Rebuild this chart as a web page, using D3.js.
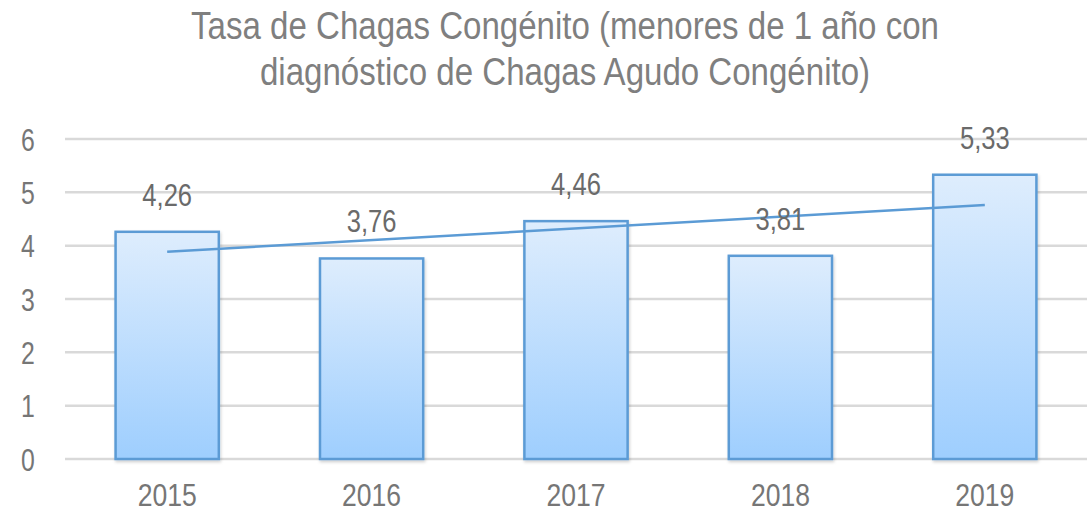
<!DOCTYPE html>
<html>
<head>
<meta charset="utf-8">
<script src="https://cdn.jsdelivr.net/npm/d3@7"></script>
<style>
  html, body { margin: 0; padding: 0; background: #fff; }
  svg { display: block; font-family: "Liberation Sans", Arial, sans-serif; }
</style>
</head>
<body>
<svg id="chart" width="1087" height="513"></svg>
<script>
// Chart data
const years = ["2015", "2016", "2017", "2018", "2019"];
const rates = [4.26, 3.76, 4.46, 3.81, 5.33];
const yTicks = [0, 1, 2, 3, 4, 5, 6];
const titleLines = [
  "Tasa de Chagas Congénito (menores de 1 año con",
  "diagnóstico de Chagas Agudo Congénito)"
];

const W = 1087, H = 513;
const margin = { top: 139, right: 0, bottom: 54, left: 65 };
const svg = d3.select("#chart");
const squeeze = 0.8; // horizontal condensing of all text

const x = d3.scaleBand()
  .domain(years)
  .range([margin.left, W - margin.right])
  .paddingInner(0.495)
  .paddingOuter(0.2475);

const y = d3.scaleLinear()
  .domain([0, 6])
  .range([H - margin.bottom, margin.top]);

// Bar gradient
const defs = svg.append("defs");
const grad = defs.append("linearGradient")
  .attr("id", "barFill")
  .attr("x1", 0).attr("y1", 0).attr("x2", 0).attr("y2", 1);
grad.append("stop").attr("offset", "0%").attr("stop-color", "#deedfd");
grad.append("stop").attr("offset", "100%").attr("stop-color", "#9ecefe");

const shadow = defs.append("filter").attr("id", "shadow")
  .attr("x", "-10%").attr("y", "-10%").attr("width", "130%").attr("height", "130%");
shadow.append("feDropShadow")
  .attr("dx", 1).attr("dy", 2).attr("stdDeviation", 1.5)
  .attr("flood-color", "#000").attr("flood-opacity", 0.18);

// Gridlines
svg.append("g")
  .selectAll("line")
  .data(yTicks)
  .join("line")
  .attr("x1", margin.left)
  .attr("x2", W)
  .attr("y1", d => y(d))
  .attr("y2", d => y(d))
  .attr("stroke", "#d9d9d9")
  .attr("stroke-width", 2.5);

// Y axis labels
const yAxis = d3.axisLeft(y).tickValues(yTicks).tickSize(0).tickPadding(0)
  .tickFormat(d3.format("d"));
const gy = svg.append("g").attr("transform", `translate(28,0)`).call(yAxis);
gy.select(".domain").remove();
gy.selectAll("text")
  .attr("x", 0)
  .attr("dy", "0.36em")
  .attr("text-anchor", "middle")
  .attr("transform", `scale(${squeeze},1)`)
  .attr("fill", "#767676")
  .style("font-size", "31px")
  .style("font-family", "'Liberation Sans', Arial, sans-serif");

// X axis labels
const xAxis = d3.axisBottom(x).tickSize(0).tickPadding(0);
const gx = svg.append("g").attr("transform", `translate(0,${H - margin.bottom})`).call(xAxis);
gx.select(".domain").remove();
gx.selectAll("text")
  .attr("y", 47)
  .attr("dy", 0)
  .attr("transform", `scale(0.83,1)`)
  .attr("fill", "#767676")
  .style("font-size", "32px")
  .style("font-family", "'Liberation Sans', Arial, sans-serif");

// Bars
svg.append("g")
  .selectAll("rect")
  .data(rates)
  .join("rect")
  .attr("x", (d, i) => x(years[i]))
  .attr("y", d => y(d))
  .attr("width", x.bandwidth())
  .attr("height", d => y(0) - y(d))
  .attr("fill", "url(#barFill)")
  .attr("stroke", "#5b9bd5")
  .attr("stroke-width", 2.5)
  .attr("filter", "url(#shadow)");

// Linear trendline (least squares over the series)
const n = rates.length;
const xs = d3.range(n);
const mx = d3.mean(xs), my = d3.mean(rates);
const slope = d3.sum(xs, i => (i - mx) * (rates[i] - my)) / d3.sum(xs, i => (i - mx) ** 2);
const icpt = my - slope * mx;
const trend = [0, n - 1].map(i => ({ year: years[i], v: icpt + slope * i }));
svg.append("path")
  .datum(trend)
  .attr("fill", "none")
  .attr("stroke", "#5b9bd5")
  .attr("stroke-width", 2.5)
  .attr("d", d3.line()
    .x(d => x(d.year) + x.bandwidth() / 2)
    .y(d => y(d.v)));

// Value labels
const fmt = v => d3.format(".2f")(v).replace(".", ",");
svg.append("g")
  .selectAll("text")
  .data(rates)
  .join("text")
  .attr("transform", (d, i) => `translate(${x(years[i]) + x.bandwidth() / 2},${y(d) - 26}) scale(${squeeze},1)`)
  .attr("text-anchor", "middle")
  .attr("fill", "#6a6a6a")
  .style("font-size", "32px")
  .text(fmt);

// Title
svg.append("g")
  .selectAll("text")
  .data(titleLines)
  .join("text")
  .attr("transform", (d, i) => `translate(565,${39 + i * 46}) scale(0.87,1)`)
  .attr("text-anchor", "middle")
  .attr("fill", "#7f7f7f")
  .style("font-size", "38px")
  .text(d => d);
</script>
</body>
</html>
